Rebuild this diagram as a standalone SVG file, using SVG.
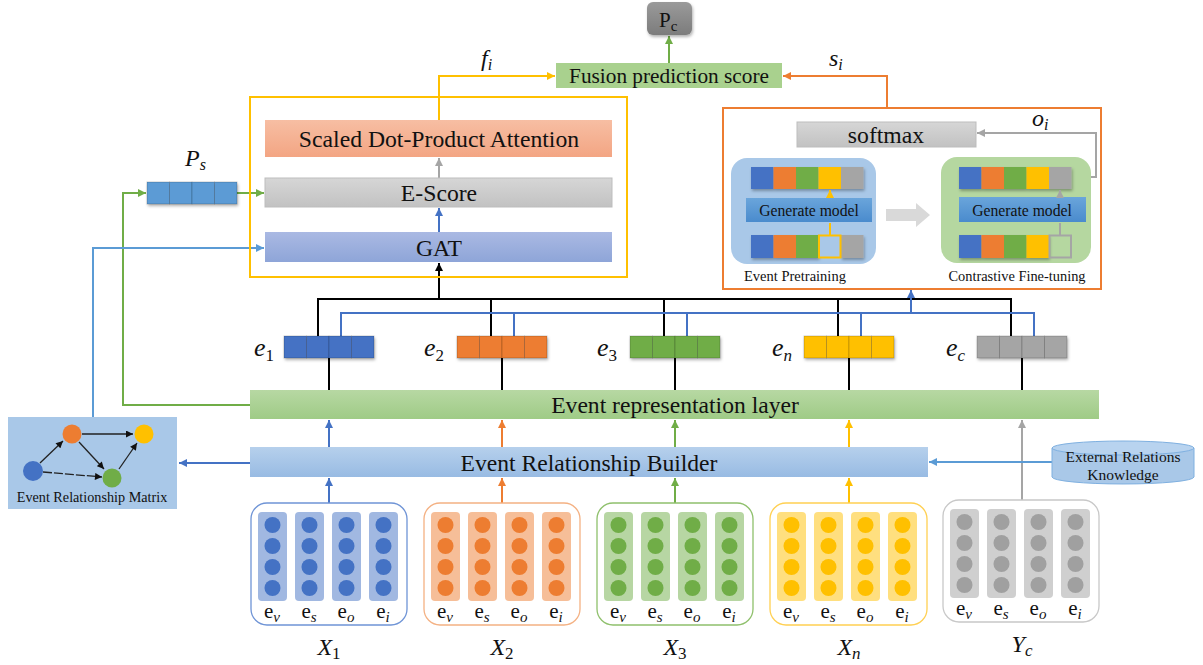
<svg xmlns="http://www.w3.org/2000/svg" xmlns:xlink="http://www.w3.org/1999/xlink" width="1203" height="665" viewBox="0 0 1203 665">
<style>
.t{font-family:"Liberation Serif","Times New Roman",serif;fill:#111}
.m{font-family:"Liberation Serif","Times New Roman",serif;font-style:italic;fill:#111}
.up{font-style:normal}
.ln{fill:none;stroke-width:2}
.thin{fill:none;stroke-width:1.3}
.cell{stroke:rgba(0,0,0,0.18);stroke-width:1}
</style>
<defs>
<linearGradient id="gGreen" x1="0" y1="0" x2="0" y2="1"><stop offset="0" stop-color="#b7d8a3"/><stop offset="1" stop-color="#9fcb86"/></linearGradient>
<linearGradient id="gBlue" x1="0" y1="0" x2="0" y2="1"><stop offset="0" stop-color="#b6d0ec"/><stop offset="1" stop-color="#98bbe3"/></linearGradient>
<linearGradient id="gSalmon" x1="0" y1="0" x2="0" y2="1"><stop offset="0" stop-color="#f7bea3"/><stop offset="1" stop-color="#f3a583"/></linearGradient>
<linearGradient id="gGray" x1="0" y1="0" x2="0" y2="1"><stop offset="0" stop-color="#d6d6d6"/><stop offset="1" stop-color="#c2c2c2"/></linearGradient>
<linearGradient id="gGat" x1="0" y1="0" x2="0" y2="1"><stop offset="0" stop-color="#aab9e3"/><stop offset="1" stop-color="#8ea5d8"/></linearGradient>
<linearGradient id="gPc" x1="0" y1="0" x2="0" y2="1"><stop offset="0" stop-color="#9a9a9a"/><stop offset="1" stop-color="#7c7c7c"/></linearGradient>
<linearGradient id="gGen" x1="0" y1="0" x2="0" y2="1"><stop offset="0" stop-color="#6aa5db"/><stop offset="1" stop-color="#4a8bcd"/></linearGradient>
<filter id="sh" x="-10%" y="-20%" width="130%" height="160%"><feDropShadow dx="1" dy="2" stdDeviation="1.5" flood-color="#000" flood-opacity="0.3"/></filter>
<marker id="aK" viewBox="0 0 10 10" refX="10" refY="5" markerWidth="9" markerHeight="8" markerUnits="userSpaceOnUse" orient="auto"><path d="M0,0 L10,5 L0,10 z" fill="#000"/></marker>
<marker id="aB" viewBox="0 0 10 10" refX="10" refY="5" markerWidth="9" markerHeight="8" markerUnits="userSpaceOnUse" orient="auto"><path d="M0,0 L10,5 L0,10 z" fill="#4472c4"/></marker>
<marker id="aL" viewBox="0 0 10 10" refX="10" refY="5" markerWidth="9" markerHeight="8" markerUnits="userSpaceOnUse" orient="auto"><path d="M0,0 L10,5 L0,10 z" fill="#5b9bd5"/></marker>
<marker id="aG" viewBox="0 0 10 10" refX="10" refY="5" markerWidth="9" markerHeight="8" markerUnits="userSpaceOnUse" orient="auto"><path d="M0,0 L10,5 L0,10 z" fill="#70ad47"/></marker>
<marker id="aO" viewBox="0 0 10 10" refX="10" refY="5" markerWidth="9" markerHeight="8" markerUnits="userSpaceOnUse" orient="auto"><path d="M0,0 L10,5 L0,10 z" fill="#ed7d31"/></marker>
<marker id="aY" viewBox="0 0 10 10" refX="10" refY="5" markerWidth="9" markerHeight="8" markerUnits="userSpaceOnUse" orient="auto"><path d="M0,0 L10,5 L0,10 z" fill="#ffc000"/></marker>
<marker id="aA" viewBox="0 0 10 10" refX="10" refY="5" markerWidth="9" markerHeight="8" markerUnits="userSpaceOnUse" orient="auto"><path d="M0,0 L10,5 L0,10 z" fill="#a5a5a5"/></marker>
<marker id="aS" viewBox="0 0 10 10" refX="10" refY="5" markerWidth="8" markerHeight="7" markerUnits="userSpaceOnUse" orient="auto"><path d="M0,0 L10,5 L0,10 z" fill="#111"/></marker>
<g id="col">
<rect x="0" y="0" width="29" height="89" rx="4" fill="currentColor" fill-opacity="0.5"/>
<circle cx="14.5" cy="13" r="8" fill="currentColor"/>
<circle cx="14.5" cy="34" r="8" fill="currentColor"/>
<circle cx="14.5" cy="55" r="8" fill="currentColor"/>
<circle cx="14.5" cy="76" r="8" fill="currentColor"/>
</g>
<g id="vec">
<rect x="0" y="0" width="22.5" height="22" fill="currentColor" class="cell"/>
<rect x="22.5" y="0" width="22.5" height="22" fill="currentColor" class="cell"/>
<rect x="45" y="0" width="22.5" height="22" fill="currentColor" class="cell"/>
<rect x="67.5" y="0" width="22.5" height="22" fill="currentColor" class="cell"/>
</g>
</defs>
<rect width="1203" height="665" fill="#fff"/>

<!-- connectors -->
<g id="connectors">
<path class="ln" stroke="#70ad47" d="M669,63 V36" marker-end="url(#aG)"/>
<path class="ln" stroke="#ffc000" d="M439,120 V76 H555" marker-end="url(#aY)"/>
<path class="ln" stroke="#ed7d31" d="M887,108 V76 H783" marker-end="url(#aO)"/>
<path class="ln" stroke="#a5a5a5" d="M439,178 V158" marker-end="url(#aA)"/>
<path class="ln" stroke="#4472c4" d="M439,232 V208" marker-end="url(#aB)"/>
<path class="ln" stroke="#000" d="M439,299 V263" marker-end="url(#aK)"/>
<path class="ln" stroke="#70ad47" d="M250,405 H123 V193 H146" marker-end="url(#aG)"/>
<path class="ln" stroke="#70ad47" d="M237,193 H264" marker-end="url(#aG)"/>
<path class="ln" stroke="#5b9bd5" d="M93,417 V248 H264" marker-end="url(#aL)"/>
<path class="ln" stroke="#000" d="M318,336 V299 H1011 V336 M491,299 V336 M664,299 V336 M838,299 V336"/>
<path class="ln" stroke="#4472c4" d="M341,336 V313 H1034 V336 M514,313 V336 M687,313 V336 M861,313 V336"/>
<path class="ln" stroke="#4472c4" d="M911,313 V290" marker-end="url(#aB)"/>
<path class="ln" stroke="#000" d="M329,390 V348" marker-end="url(#aK)"/>
<path class="ln" stroke="#000" d="M502,390 V348" marker-end="url(#aK)"/>
<path class="ln" stroke="#000" d="M675,390 V348" marker-end="url(#aK)"/>
<path class="ln" stroke="#000" d="M849,390 V348" marker-end="url(#aK)"/>
<path class="ln" stroke="#000" d="M1022,390 V348" marker-end="url(#aK)"/>
<path class="ln" stroke="#4472c4" d="M329,447 V420" marker-end="url(#aB)"/>
<path class="ln" stroke="#ed7d31" d="M502,447 V420" marker-end="url(#aO)"/>
<path class="ln" stroke="#70ad47" d="M675,447 V420" marker-end="url(#aG)"/>
<path class="ln" stroke="#ffc000" d="M849,447 V420" marker-end="url(#aY)"/>
<path class="ln" stroke="#4472c4" d="M329,503 V478" marker-end="url(#aB)"/>
<path class="ln" stroke="#ed7d31" d="M502,503 V478" marker-end="url(#aO)"/>
<path class="ln" stroke="#70ad47" d="M675,503 V478" marker-end="url(#aG)"/>
<path class="ln" stroke="#ffc000" d="M849,503 V478" marker-end="url(#aY)"/>
<path class="ln" stroke="#a5a5a5" d="M1022,501 V420" marker-end="url(#aA)"/>
<path class="ln" stroke="#4472c4" d="M250,463 H179" marker-end="url(#aB)"/>
<path class="ln" stroke="#5b9bd5" d="M1052,462 H929" marker-end="url(#aL)"/>
<path class="ln" stroke="#a5a5a5" d="M1071,177 H1096 V133 H977" marker-end="url(#aA)"/>
</g>

<!-- P_c -->
<g id="pc">
<rect x="647" y="2" width="45" height="33" rx="6" fill="url(#gPc)" filter="url(#sh)"/>
<text class="t" x="659" y="27" font-size="21">P<tspan font-size="15" dy="4">c</tspan></text>
</g>
<g id="fusion">
<rect x="556" y="63" width="226" height="25" fill="#a9d18e"/>
<text class="t" x="669" y="82.5" font-size="21.3" text-anchor="middle">Fusion prediction score</text>
</g>
<text class="m" x="481" y="66" font-size="24">f<tspan font-size="16" dy="4">i</tspan></text>
<text class="m" x="829" y="66" font-size="24">s<tspan font-size="16" dy="4">i</tspan></text>
<text class="m" x="185" y="166" font-size="24">P<tspan font-size="16" dy="4">s</tspan></text>
<text class="m" x="1032" y="126" font-size="24">o<tspan font-size="16" dy="4">i</tspan></text>

<!-- left yellow module -->
<g id="attn-module">
<rect x="250" y="97" width="377" height="180" fill="none" stroke="#ffc000" stroke-width="2"/>
<rect x="265" y="120" width="347" height="37" fill="url(#gSalmon)"/>
<text class="t" x="439" y="146.5" font-size="23.7" text-anchor="middle">Scaled Dot-Product Attention</text>
<rect x="265" y="178" width="347" height="29" fill="url(#gGray)" stroke="#bdbdbd"/>
<text class="t" x="439" y="201" font-size="23.7" text-anchor="middle">E-Score</text>
<rect x="265" y="232" width="347" height="30" fill="url(#gGat)"/>
<text class="t" x="439" y="255.5" font-size="23.7" text-anchor="middle">GAT</text>
</g>
<g id="ps" filter="url(#sh)">
<use href="#vec" x="147" y="182" style="color:#5b9bd5"/>
</g>

<!-- right orange module -->
<g id="cl-module">
<rect x="723" y="108" width="378" height="181" fill="none" stroke="#ed7d31" stroke-width="2"/>
<rect x="797" y="122" width="179" height="25" fill="url(#gGray)" stroke="#bdbdbd"/>
<text class="t" x="886" y="142.5" font-size="23.7" text-anchor="middle">softmax</text>
<g id="pretrain">
<rect x="731" y="158" width="145" height="106" rx="16" fill="#a9c8e8"/>
<g filter="url(#sh)">
<rect x="751" y="167" width="22.5" height="22" fill="#4472c4"/>
<rect x="773.5" y="167" width="22.5" height="22" fill="#ed7d31"/>
<rect x="796" y="167" width="22.5" height="22" fill="#70ad47"/>
<rect x="818.5" y="167" width="22.5" height="22" fill="#ffc000"/>
<rect x="841" y="167" width="22.5" height="22" fill="#a5a5a5"/>
</g>
<rect x="746" y="198" width="126" height="24" fill="url(#gGen)"/>
<text class="t" x="809" y="215.5" font-size="15.7" text-anchor="middle">Generate model</text>
<g filter="url(#sh)">
<rect x="751" y="235" width="22.5" height="23" fill="#4472c4"/>
<rect x="773.5" y="235" width="22.5" height="23" fill="#ed7d31"/>
<rect x="796" y="235" width="22.5" height="23" fill="#70ad47"/>
<rect x="841" y="235" width="22.5" height="23" fill="#a5a5a5"/>
</g>
<rect x="819" y="235.5" width="21.5" height="22" fill="#a9c8e8" stroke="#ffc000" stroke-width="2"/>
<path class="ln" stroke="#ffc000" stroke-width="1.5" d="M830,235 V223 M830,198 V190" marker-end="url(#aY)"/>
<text class="t" x="744" y="281" font-size="14.5">Event Pretraining</text>
</g>
<path d="M886,209 H916 V203 L930,215 L916,227 V221 H886 z" fill="#d9d9d9"/>
<g id="finetune">
<rect x="941" y="157" width="150" height="106" rx="16" fill="#b5d7a0"/>
<g filter="url(#sh)">
<rect x="959" y="167" width="22.5" height="22" fill="#4472c4"/>
<rect x="981.5" y="167" width="22.5" height="22" fill="#ed7d31"/>
<rect x="1004" y="167" width="22.5" height="22" fill="#70ad47"/>
<rect x="1026.5" y="167" width="22.5" height="22" fill="#ffc000"/>
<rect x="1049" y="167" width="22.5" height="22" fill="#a5a5a5"/>
</g>
<rect x="959" y="197" width="127" height="25" fill="url(#gGen)"/>
<text class="t" x="1022" y="215.5" font-size="15.7" text-anchor="middle">Generate model</text>
<g filter="url(#sh)">
<rect x="959" y="235" width="22.5" height="23" fill="#4472c4"/>
<rect x="981.5" y="235" width="22.5" height="23" fill="#ed7d31"/>
<rect x="1004" y="235" width="22.5" height="23" fill="#70ad47"/>
<rect x="1026.5" y="235" width="22.5" height="23" fill="#ffc000"/>
</g>
<rect x="1049.5" y="235.5" width="21.5" height="22" fill="none" stroke="#a5a5a5" stroke-width="2"/>
<path class="ln" stroke="#a5a5a5" stroke-width="1.5" d="M1060,235 V223 M1060,197 V190" marker-end="url(#aA)"/>
<text class="t" x="1017" y="281" font-size="14.4" text-anchor="middle">Contrastive Fine-tuning</text>
</g>
</g>

<!-- event vectors -->
<g id="e1"><use href="#vec" x="284" y="336" style="color:#4472c4" filter="url(#sh)"/><text class="m" x="254" y="356" font-size="26">e<tspan class="up" font-size="17" dy="5">1</tspan></text></g>
<g id="e2"><use href="#vec" x="457" y="336" style="color:#ed7d31" filter="url(#sh)"/><text class="m" x="424" y="356" font-size="26">e<tspan class="up" font-size="17" dy="5">2</tspan></text></g>
<g id="e3"><use href="#vec" x="630" y="336" style="color:#70ad47" filter="url(#sh)"/><text class="m" x="597" y="356" font-size="26">e<tspan class="up" font-size="17" dy="5">3</tspan></text></g>
<g id="en"><use href="#vec" x="804" y="336" style="color:#ffc000" filter="url(#sh)"/><text class="m" x="772" y="356" font-size="26">e<tspan font-size="17" dy="5">n</tspan></text></g>
<g id="ec"><use href="#vec" x="977" y="336" style="color:#a5a5a5" filter="url(#sh)"/><text class="m" x="946" y="356" font-size="26">e<tspan font-size="17" dy="5">c</tspan></text></g>

<!-- layers -->
<g id="rep-layer">
<rect x="250" y="390" width="849" height="29" fill="url(#gGreen)"/>
<text class="t" x="675" y="413" font-size="23.6" text-anchor="middle">Event representation layer</text>
</g>
<g id="builder">
<rect x="250" y="447" width="678" height="30" fill="url(#gBlue)"/>
<text class="t" x="589" y="470.5" font-size="23.6" text-anchor="middle">Event Relationship Builder</text>
</g>
<g id="ext-knowledge">
<path d="M1052,448 V477 A71,7 0 0 0 1194,477 V448" fill="#a9c8e8" stroke="#7fb0e0" stroke-width="1"/>
<ellipse cx="1123" cy="448" rx="71" ry="7" fill="#b8d3ef" stroke="#7fb0e0" stroke-width="1"/>
<text class="t" x="1123" y="462" font-size="15.5" text-anchor="middle">External Relations</text>
<text class="t" x="1123" y="480" font-size="15.5" text-anchor="middle">Knowledge</text>
</g>

<!-- relation matrix -->
<g id="matrix">
<rect x="8" y="417" width="169" height="92" fill="#a9c8e8"/>
<g class="thin" stroke="#222">
<path d="M40,463 L63,441" marker-end="url(#aS)"/>
<path d="M82,434 L133,434" marker-end="url(#aS)"/>
<path d="M79,442 L104,469" marker-end="url(#aS)"/>
<path d="M43,472 L102,477" stroke-dasharray="9 2" marker-end="url(#aS)"/>
<path d="M119,469 L137,443" marker-end="url(#aS)"/>
</g>
<circle cx="72" cy="434" r="9.5" fill="#ed7d31"/>
<circle cx="144" cy="434" r="9.5" fill="#ffc000"/>
<circle cx="33" cy="471" r="10" fill="#4472c4"/>
<circle cx="112" cy="478" r="9.5" fill="#70ad47"/>
<text class="t" x="92" y="502" font-size="14.2" text-anchor="middle">Event Relationship Matrix</text>
</g>

<!-- input groups -->
<g id="X1">
<rect x="251" y="503" width="156" height="122" rx="16" fill="#fff" stroke="#6f94d6" stroke-width="1.3"/>
<g style="color:#4472c4"><use href="#col" x="258" y="512"/><use href="#col" x="295" y="512"/><use href="#col" x="332" y="512"/><use href="#col" x="369" y="512"/></g>
<g class="t" font-size="21" text-anchor="middle"><text x="272" y="618">e<tspan font-style="italic" font-size="15" dy="4">v</tspan></text><text x="309" y="618">e<tspan font-style="italic" font-size="15" dy="4">s</tspan></text><text x="346" y="618">e<tspan font-style="italic" font-size="15" dy="4">o</tspan></text><text x="383" y="618">e<tspan font-style="italic" font-size="15" dy="4">i</tspan></text></g>
<text class="m" x="329" y="655" font-size="24" text-anchor="middle">X<tspan class="up" font-size="17" dy="4">1</tspan></text>
</g>
<g id="X2">
<rect x="424" y="503" width="156" height="122" rx="16" fill="#fff" stroke="#f4b183" stroke-width="1.3"/>
<g style="color:#ed7d31"><use href="#col" x="431" y="512"/><use href="#col" x="468" y="512"/><use href="#col" x="505" y="512"/><use href="#col" x="542" y="512"/></g>
<g class="t" font-size="21" text-anchor="middle"><text x="445" y="618">e<tspan font-style="italic" font-size="15" dy="4">v</tspan></text><text x="482" y="618">e<tspan font-style="italic" font-size="15" dy="4">s</tspan></text><text x="519" y="618">e<tspan font-style="italic" font-size="15" dy="4">o</tspan></text><text x="556" y="618">e<tspan font-style="italic" font-size="15" dy="4">i</tspan></text></g>
<text class="m" x="502" y="655" font-size="24" text-anchor="middle">X<tspan class="up" font-size="17" dy="4">2</tspan></text>
</g>
<g id="X3">
<rect x="597" y="503" width="156" height="122" rx="16" fill="#fff" stroke="#8fc06c" stroke-width="1.3"/>
<g style="color:#70ad47"><use href="#col" x="604" y="512"/><use href="#col" x="641" y="512"/><use href="#col" x="678" y="512"/><use href="#col" x="715" y="512"/></g>
<g class="t" font-size="21" text-anchor="middle"><text x="618" y="618">e<tspan font-style="italic" font-size="15" dy="4">v</tspan></text><text x="655" y="618">e<tspan font-style="italic" font-size="15" dy="4">s</tspan></text><text x="692" y="618">e<tspan font-style="italic" font-size="15" dy="4">o</tspan></text><text x="729" y="618">e<tspan font-style="italic" font-size="15" dy="4">i</tspan></text></g>
<text class="m" x="675" y="655" font-size="24" text-anchor="middle">X<tspan class="up" font-size="17" dy="4">3</tspan></text>
</g>
<g id="Xn">
<rect x="770" y="503" width="157" height="122" rx="16" fill="#fff" stroke="#ffd052" stroke-width="1.3"/>
<g style="color:#ffc000"><use href="#col" x="777" y="512"/><use href="#col" x="814" y="512"/><use href="#col" x="851" y="512"/><use href="#col" x="888" y="512"/></g>
<g class="t" font-size="21" text-anchor="middle"><text x="791" y="618">e<tspan font-style="italic" font-size="15" dy="4">v</tspan></text><text x="828" y="618">e<tspan font-style="italic" font-size="15" dy="4">s</tspan></text><text x="865" y="618">e<tspan font-style="italic" font-size="15" dy="4">o</tspan></text><text x="902" y="618">e<tspan font-style="italic" font-size="15" dy="4">i</tspan></text></g>
<text class="m" x="849" y="655" font-size="24" text-anchor="middle">X<tspan font-size="17" dy="4">n</tspan></text>
</g>
<g id="Yc">
<rect x="943" y="500" width="156" height="122" rx="16" fill="#fff" stroke="#c8c8c8" stroke-width="1.3"/>
<g style="color:#a0a0a0"><use href="#col" x="950" y="509"/><use href="#col" x="987" y="509"/><use href="#col" x="1024" y="509"/><use href="#col" x="1061" y="509"/></g>
<g class="t" font-size="21" text-anchor="middle"><text x="964" y="615">e<tspan font-style="italic" font-size="15" dy="4">v</tspan></text><text x="1001" y="615">e<tspan font-style="italic" font-size="15" dy="4">s</tspan></text><text x="1038" y="615">e<tspan font-style="italic" font-size="15" dy="4">o</tspan></text><text x="1075" y="615">e<tspan font-style="italic" font-size="15" dy="4">i</tspan></text></g>
<text class="m" x="1022" y="652" font-size="24" text-anchor="middle">Y<tspan font-size="17" dy="4">c</tspan></text>
</g>
</svg>
